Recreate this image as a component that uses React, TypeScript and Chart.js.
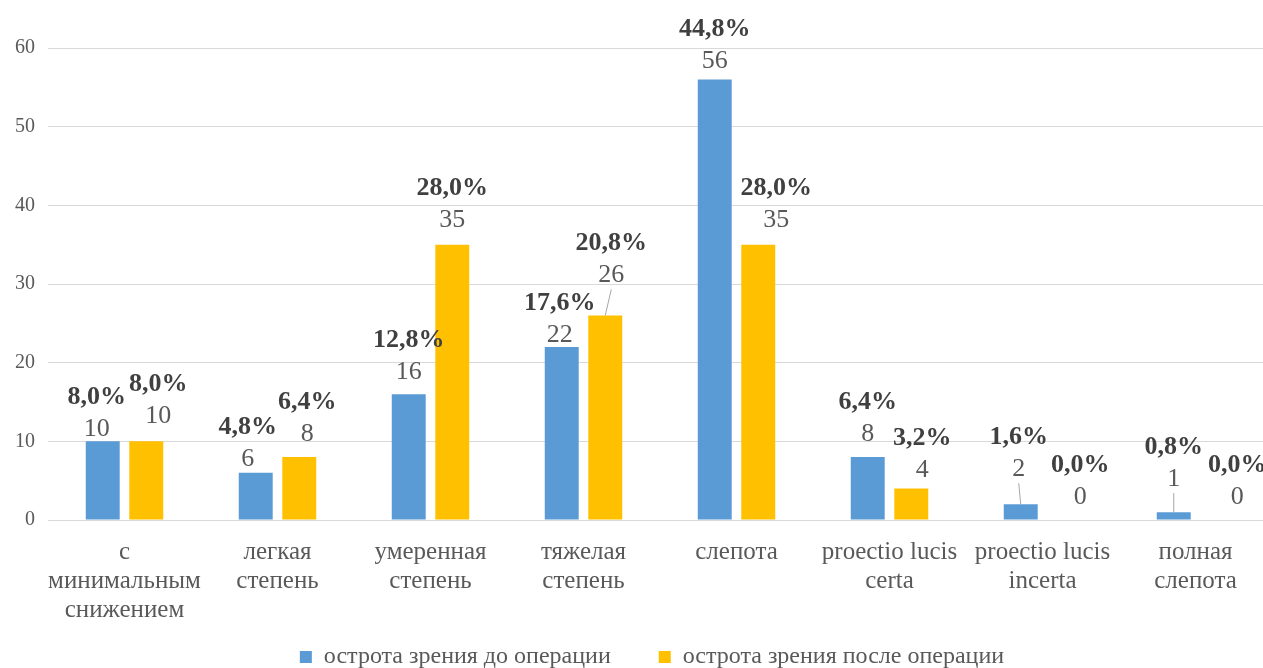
import React, { useEffect, useRef } from "react";
import { Chart, registerables } from "chart.js";

Chart.register(...registerables);

const categories: string[][] = [
  ["с", "минимальным", "снижением"],
  ["легкая", "степень"],
  ["умеренная", "степень"],
  ["тяжелая", "степень"],
  ["слепота"],
  ["proectio lucis", "certa"],
  ["proectio lucis", "incerta"],
  ["полная", "слепота"],
];
const seriesNames = ["острота зрения до операции", "острота зрения после операции"];
const beforeValues = [10, 6, 16, 22, 56, 8, 2, 1];
const afterValues = [10, 8, 35, 26, 35, 4, 0, 0];
const beforePct = ["8,0%", "4,8%", "12,8%", "17,6%", "44,8%", "6,4%", "1,6%", "0,8%"];
const afterPct = ["8,0%", "6,4%", "28,0%", "20,8%", "28,0%", "3,2%", "0,0%", "0,0%"];
const yMin = 0;
const yMax = 60;
const yStep = 10;

// manual label nudges (dx, dy) like the hand-moved labels in the original
const beforeNudge: number[][] = [[-6, 6], [-8, 4], [0, -4], [-2, 6], [0, 0], [0, -5], [-2, -17], [0, -15]];
const afterNudge: number[][] = [[12, -7], [8, -5], [0, -6], [6, -22], [18, -6], [11, 0], [16, -5], [20, -5]];

const FONT = "'Liberation Serif', 'Times New Roman', serif";

const labelPlugin = {
  id: "barLabels",
  afterDatasetsDraw(chart: any) {
    const ctx = chart.ctx;
    chart.data.datasets.forEach((ds: any, di: number) => {
      const meta = chart.getDatasetMeta(di);
      const pcts = di === 0 ? beforePct : afterPct;
      const nudges = di === 0 ? beforeNudge : afterNudge;
      meta.data.forEach((el: any, i: number) => {
        const [dx, dy] = nudges[i];
        const x = el.x + dx;
        const vy = el.y - 18 + dy;
        const py = vy - 32;
        ctx.save();
        ctx.textAlign = "center";
        ctx.textBaseline = "middle";
        ctx.fillStyle = "#595959";
        ctx.font = `26px ${FONT}`;
        ctx.fillText(String(ds.data[i]), x, vy);
        ctx.font = `bold 26px ${FONT}`;
        ctx.fillStyle = "#404040";
        ctx.fillText(pcts[i], x, py);
        if (dy < -12 && ds.data[i] > 0) {
          ctx.strokeStyle = "#a6a6a6";
          ctx.lineWidth = 1;
          ctx.beginPath();
          ctx.moveTo(x, vy + 14);
          ctx.lineTo(el.x, el.y);
          ctx.stroke();
        }
        ctx.restore();
      });
    });
  },
};

const layoutTweak = {
  id: "layoutTweak",
  afterLayout(chart: any) {
    if (chart.legend) chart.legend.left = 32;
    const xs = chart.scales.x;
    xs.bottom = xs.top + 115;
  },
};

export default function App() {
  const ref = useRef<HTMLCanvasElement | null>(null);
  useEffect(() => {
    if (!ref.current) return;
    const chart = new Chart(ref.current, {
      type: "bar",
      data: {
        labels: categories,
        datasets: [
          { label: seriesNames[0], data: beforeValues, backgroundColor: "#5B9BD5", categoryPercentage: 0.569, barPercentage: 0.78 },
          { label: seriesNames[1], data: afterValues, backgroundColor: "#FFC000", categoryPercentage: 0.569, barPercentage: 0.78 },
        ],
      },
      options: {
        animation: false,
        responsive: false,
        layout: { padding: { top: 48, right: 32, left: 0, bottom: 0 } },
        plugins: {
          legend: {
            position: "bottom",
            labels: {
              boxWidth: 12,
              boxHeight: 12,
              padding: 48,
              color: "#595959",
              font: { family: FONT, size: 24 },
            },
          },
          tooltip: { enabled: false },
        },
        scales: {
          x: {
            grid: { display: false, drawTicks: false },
            border: { display: false },
            ticks: {
              color: "#595959",
              font: { family: FONT, size: 25, lineHeight: 1.16 },
              padding: 18,
              maxRotation: 0,
              autoSkip: false,
            },
            afterFit: (s: any) => {
              s.height = 77;
            },
          },
          y: {
            min: yMin,
            max: yMax,
            ticks: { stepSize: yStep, color: "#595959", font: { family: FONT, size: 20 }, padding: 13 },
            grid: { color: "#d9d9d9", drawTicks: false },
            border: { display: false },
            afterFit: (s: any) => {
              s.width = 48;
            },
          },
        },
      },
      plugins: [labelPlugin, layoutTweak],
    });
    return () => chart.destroy();
  }, []);
  return (
    <div style={{ position: "fixed", left: 0, top: 0, width: 1263, height: 668, overflow: "hidden", background: "#fff" }}>
      <canvas ref={ref} width={1304} height={679} style={{ display: "block", width: 1304, height: 679 }} />
    </div>
  );
}
